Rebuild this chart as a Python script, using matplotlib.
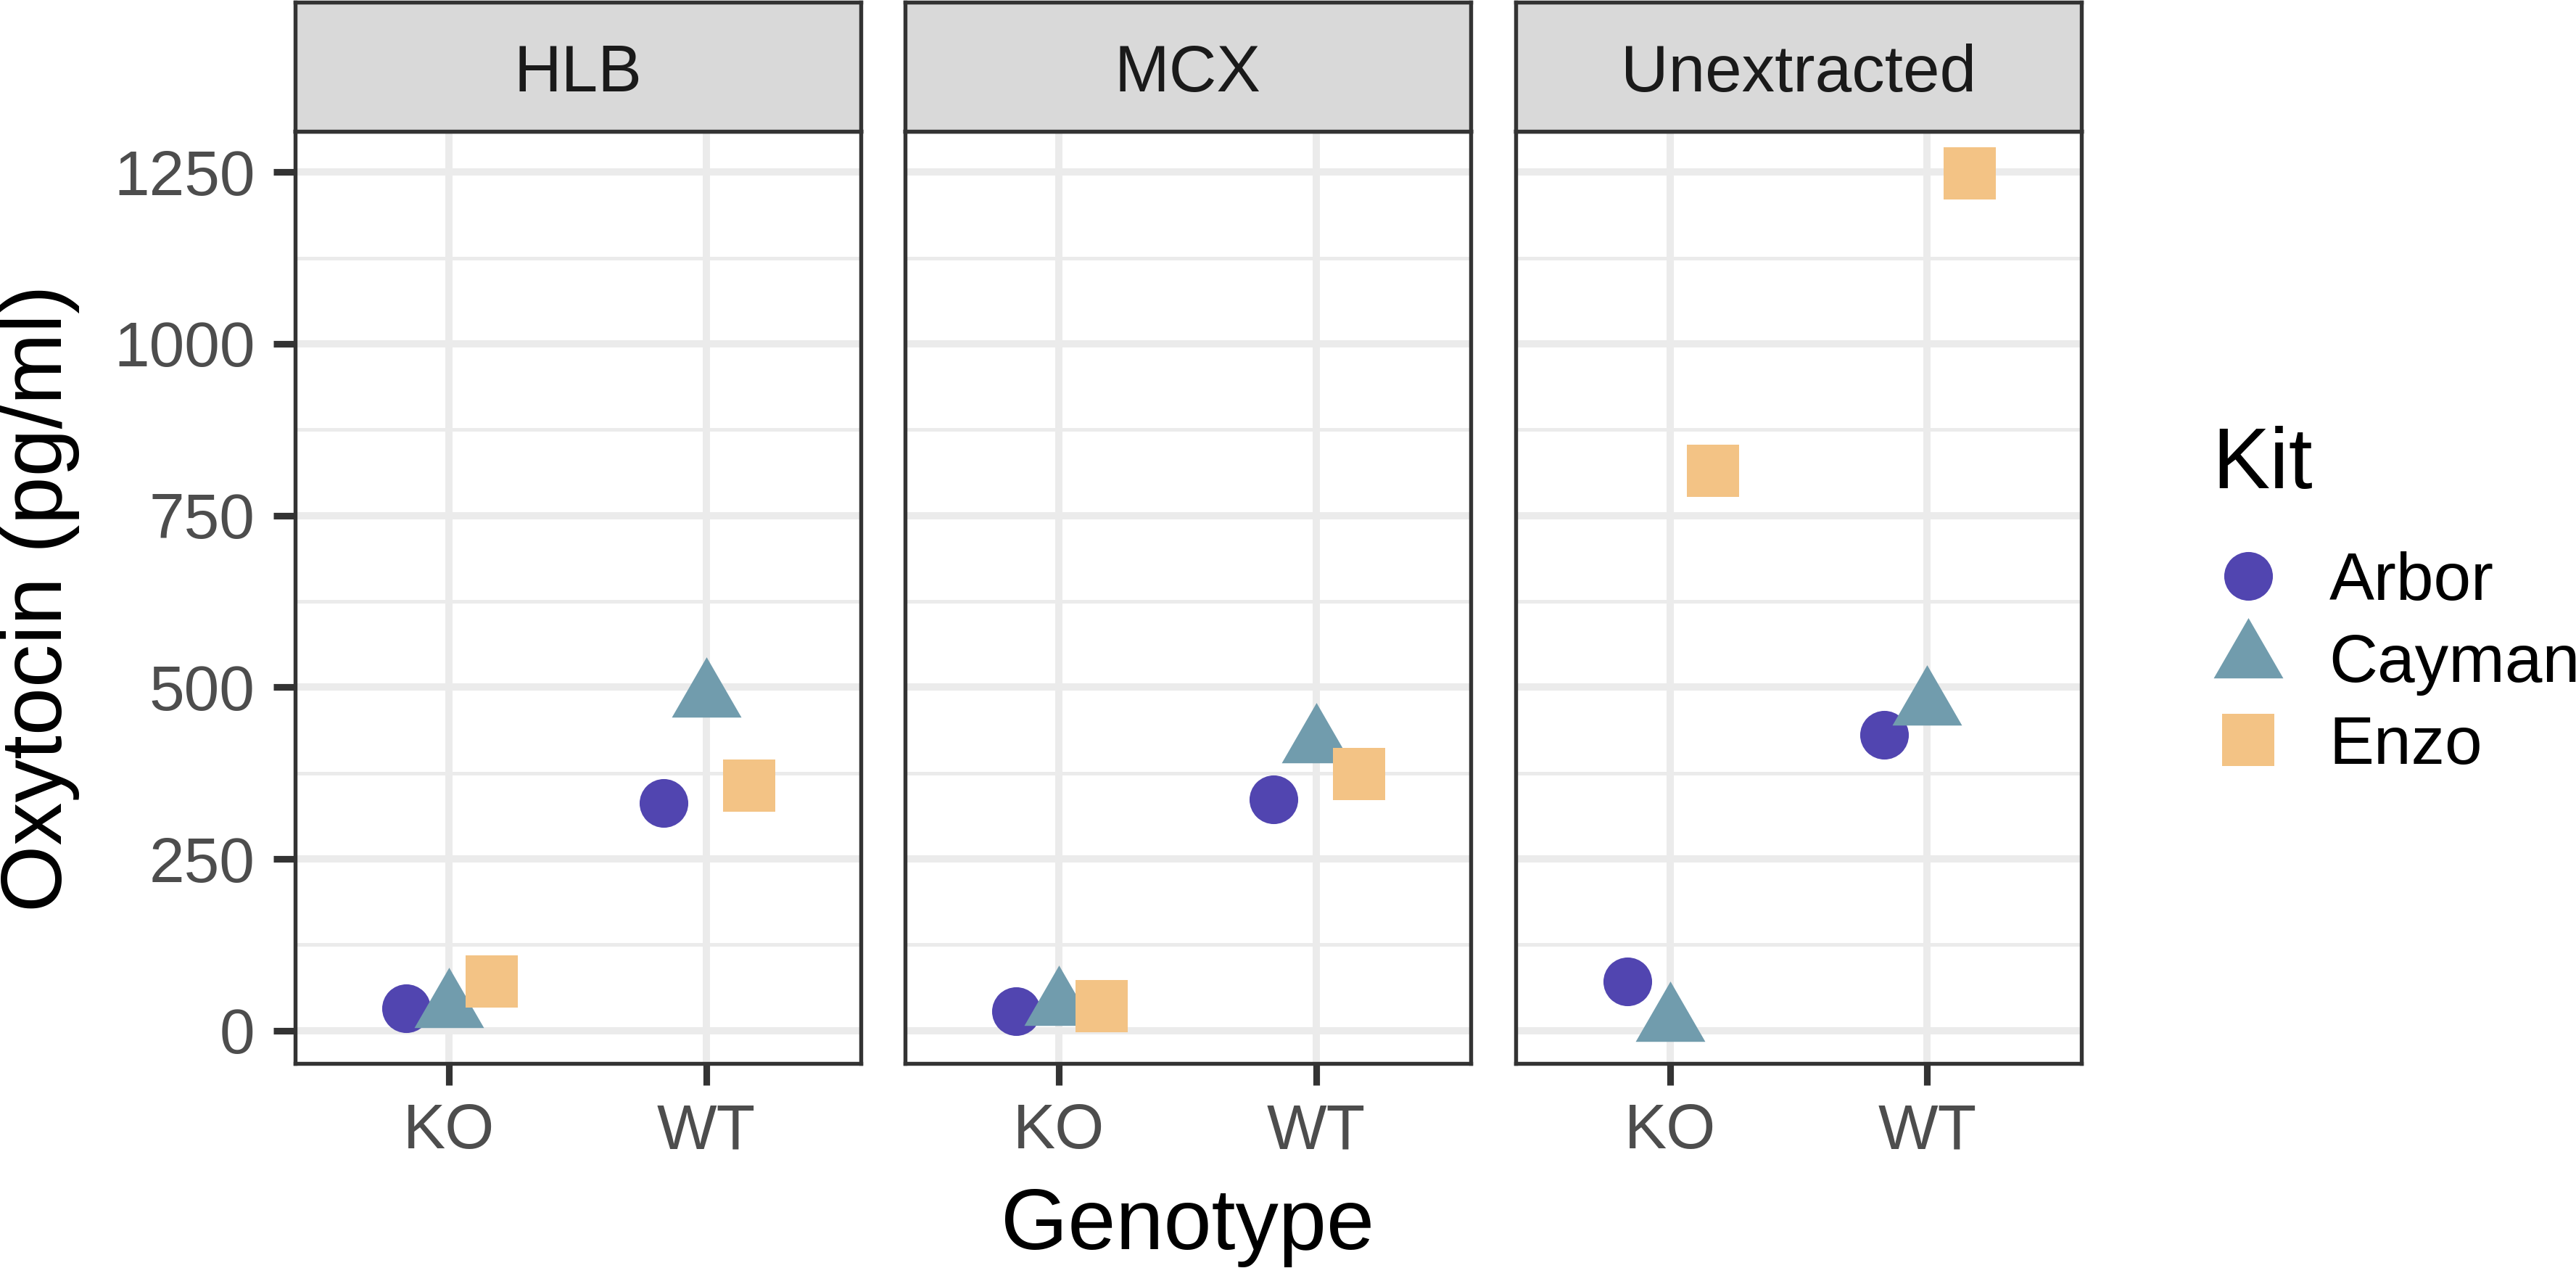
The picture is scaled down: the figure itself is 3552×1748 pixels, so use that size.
import matplotlib.pyplot as plt
import numpy as np
from matplotlib.lines import Line2D

plt.rcParams['font.family'] = ['Liberation Sans', 'DejaVu Sans']

# data
panels = ['HLB', 'MCX', 'Unextracted']
genotypes = ['KO', 'WT']
kits = ['Arbor', 'Cayman', 'Enzo']
hlb = {'Arbor': [33, 331], 'Cayman': [34, 486], 'Enzo': [72, 357]}
mcx = {'Arbor': [28, 337], 'Cayman': [37, 419], 'Enzo': [36, 374]}
unextracted = {'Arbor': [72, 431], 'Cayman': [14, 474], 'Enzo': [815, 1248]}
panel_data = [hlb, mcx, unextracted]
yticks = [0, 250, 500, 750, 1000, 1250]

colors = {'Arbor': '#5145B0', 'Cayman': '#719CAD', 'Enzo': '#F3C385'}
tri = [(0, 1), (-0.866, -0.5), (0.866, -0.5), (0, 1)]
markers = {'Arbor': 'o', 'Cayman': tri, 'Enzo': 's'}
msizes = {'Arbor': 16.1, 'Cayman': 26.6, 'Enzo': 17.5}
offsets = {'Arbor': -1/6, 'Cayman': 0, 'Enzo': 1/6}

allv = np.concatenate([np.ravel(list(d.values())) for d in panel_data])
rng = allv.max() - allv.min()
ylim = (allv.min() - 0.05 * rng, allv.max() + 0.05 * rng)

W, H = 3552, 1748
fig = plt.figure(figsize=(W / 300, H / 300), dpi=300)

lefts = [406.6, 1247.6, 2090]
pw = 780
ptop, pbot, stop = 180.6, 1466, 3.3
grid_c = '#EBEBEB'
dark = '#333333'

for i, (name, d) in enumerate(zip(panels, panel_data)):
    ax = fig.add_axes([lefts[i] / W, 1 - pbot / H, pw / W, (pbot - ptop) / H])
    ax.set_xlim(-0.6, 1.6)
    ax.set_ylim(*ylim)
    ax.set_yticks(yticks)
    ax.set_yticks([125, 375, 625, 875, 1125], minor=True)
    ax.set_xticks(range(len(genotypes)))
    ax.set_xticklabels(genotypes)
    ax.grid(True, which='major', color=grid_c, lw=2.4, zorder=0)
    ax.grid(True, which='minor', axis='y', color=grid_c, lw=1.2, zorder=0)
    ax.set_axisbelow(True)
    for k in kits:
        x = np.arange(len(genotypes)) + offsets[k]
        ax.plot(x, d[k], ls='none', marker=markers[k], ms=msizes[k],
                color=colors[k], mew=0, zorder=3)
    for s in ax.spines.values():
        s.set_color(dark)
        s.set_linewidth(1.3)
    ax.tick_params(which='major', length=7.2, width=2.2, color=dark,
                   labelcolor='#4D4D4D', labelsize=21)
    ax.tick_params(axis='y', pad=6)
    ax.tick_params(axis='x', pad=5.8)
    ax.tick_params(which='minor', length=0)
    if i > 0:
        ax.tick_params(axis='y', left=False, labelleft=False)

    sax = fig.add_axes([lefts[i] / W, 1 - ptop / H, pw / W, (ptop - stop) / H])
    sax.set_facecolor('#D9D9D9')
    sax.set_xticks([])
    sax.set_yticks([])
    for s in sax.spines.values():
        s.set_color(dark)
        s.set_linewidth(1.3)
    sax.text(0.5, (ptop - 126) / (ptop - stop), name, transform=sax.transAxes,
             ha='center', va='baseline', fontsize=21.8, color='#1A1A1A')

fig.text(55 / W, 1 - 825 / H, 'Oxytocin (pg/ml)', rotation=90, ha='center',
         va='center', fontsize=28.5, color='black')
fig.text(1637 / W, 1 - 1722 / H, 'Genotype', ha='center', va='baseline',
         fontsize=28.5, color='black')

fig.text(3050 / W, 1 - 673 / H, 'Kit', ha='left', va='baseline',
         fontsize=28.5, color='black')
handles = [Line2D([], [], ls='none', marker=markers[k], ms=msizes[k],
                  color=colors[k], mew=0) for k in kits]
leg = fig.legend(handles, kits, loc='upper left',
                 bbox_to_anchor=(3035 / W, 1 - 760 / H), frameon=False,
                 fontsize=22.3, borderpad=0, borderaxespad=0,
                 handlelength=1.4, handletextpad=0.5, labelspacing=0.29)

fig.savefig('out.png', dpi=300)
